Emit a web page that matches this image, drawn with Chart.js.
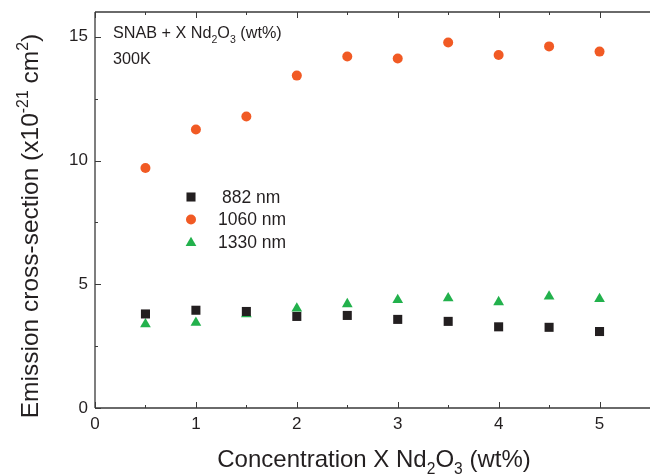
<!DOCTYPE html>
<html>
<head>
<meta charset="utf-8">
<script src="https://cdn.jsdelivr.net/npm/chart.js@4.4.1/dist/chart.umd.min.js"></script>
<style>
  html, body { margin: 0; padding: 0; background: #ffffff; }
  #wrap { width: 650px; height: 474px; position: relative; }
</style>
</head>
<body>
<div id="wrap"><canvas id="c" width="650" height="474"></canvas></div>
<script>
// ---- data ----
const concentrations = [0.5, 1, 1.5, 2, 2.5, 3, 3.5, 4, 4.5, 5];
const series882  = [3.80, 3.95, 3.90, 3.70, 3.74, 3.58, 3.50, 3.28, 3.26, 3.09];
const series1060 = [9.70, 11.25, 11.78, 13.43, 14.20, 14.12, 14.77, 14.26, 14.61, 14.40];
const series1330 = [3.39, 3.45, 3.79, 4.02, 4.20, 4.37, 4.44, 4.28, 4.51, 4.41];
const seriesNames = ['882 nm', '1060 nm', '1330 nm'];
const xTickLabels = [0, 1, 2, 3, 4, 5];
const yTickLabels = [0, 5, 10, 15];
const X_MAX = 5.5;
const Y_MAX = 16;

const BLACK = '#231f20';
const ORANGE = '#f15a24';
const GREEN = '#22b14c';
const AXIS = '#3a3a3a';
const FONT = '"Liberation Sans", Arial, sans-serif';

function pts(xs, ys) { return xs.map((x, i) => ({ x: x, y: ys[i] })); }

// rich text drawing (sub/superscripts)
function richWidth(ctx, segs, size) {
  let w = 0;
  segs.forEach(s => {
    const fs = s[1] === 'n' ? size : size * 0.65;
    ctx.font = fs + 'px ' + FONT;
    w += ctx.measureText(s[0]).width;
  });
  return w;
}
function drawRich(ctx, segs, x, y, size, align) {
  let w = richWidth(ctx, segs, size);
  let cx = align === 'center' ? x - w / 2 : x;
  segs.forEach(s => {
    const fs = s[1] === 'n' ? size : size * 0.65;
    ctx.font = fs + 'px ' + FONT;
    let dy = 0;
    if (s[1] === 'sub') dy = size * 0.28;
    if (s[1] === 'sup') dy = -size * 0.42;
    ctx.textBaseline = 'alphabetic';
    ctx.textAlign = 'left';
    ctx.fillText(s[0], cx, y + dy);
    cx += ctx.measureText(s[0]).width;
  });
}

function marker(ctx, style, x, y, r, color) {
  ctx.save();
  ctx.fillStyle = color;
  ctx.beginPath();
  if (style === 'rect') {
    const s = Math.SQRT1_2 * r;
    ctx.rect(x - s, y - s, 2 * s, 2 * s);
  } else if (style === 'circle') {
    ctx.arc(x, y, r, 0, Math.PI * 2);
  } else if (style === 'triangle') {
    ctx.moveTo(x, y - r);
    ctx.lineTo(x + Math.sin(2 * Math.PI / 3) * r, y - Math.cos(2 * Math.PI / 3) * r);
    ctx.lineTo(x + Math.sin(4 * Math.PI / 3) * r, y - Math.cos(4 * Math.PI / 3) * r);
    ctx.closePath();
  }
  ctx.fill();
  ctx.restore();
}

function noPad(s) {
  s.paddingTop = 0; s.paddingBottom = 0; s.paddingLeft = 0; s.paddingRight = 0;
}

const decor = {
  id: 'decor',
  afterDraw(chart) {
    const ctx = chart.ctx;
    const xs = chart.scales.x, ys = chart.scales.y;
    const a = chart.chartArea;
    ctx.save();
    // frame
    ctx.strokeStyle = AXIS;
    ctx.lineWidth = 1.3;
    ctx.beginPath();
    ctx.moveTo(a.left, a.top); ctx.lineTo(a.right + 2, a.top);
    ctx.moveTo(a.left, a.top); ctx.lineTo(a.left, a.bottom);
    ctx.moveTo(a.left, a.bottom); ctx.lineTo(a.right + 2, a.bottom);
    ctx.stroke();
    // ticks (inward)
    ctx.lineWidth = 1;
    ctx.beginPath();
    for (let v = 0; v <= X_MAX + 0.0001; v += 0.5) {
      const px = Math.round(xs.getPixelForValue(v)) + 0.5;
      const len = Math.abs(v - Math.round(v)) < 1e-6 ? 6 : 3;
      ctx.moveTo(px, a.bottom); ctx.lineTo(px, a.bottom - len);
      ctx.moveTo(px, a.top); ctx.lineTo(px, a.top + len);
    }
    for (let v = 0; v <= Y_MAX + 0.001; v += 2.5) {
      const py = Math.round(ys.getPixelForValue(v)) + 0.5;
      const len = Math.abs(v / 5 - Math.round(v / 5)) < 1e-6 ? 6 : 3;
      ctx.moveTo(a.left, py); ctx.lineTo(a.left + len, py);
    }
    ctx.stroke();

    ctx.fillStyle = '#231f20';
    // x title
    drawRich(ctx, [['Concentration X Nd', 'n'], ['2', 'sub'], ['O', 'n'], ['3', 'sub'], [' (wt%)', 'n']],
      374, 467, 24, 'center');
    // y title
    ctx.save();
    ctx.translate(38, 226);
    ctx.rotate(-Math.PI / 2);
    drawRich(ctx, [['Emission cross-section (x10', 'n'], ['-21', 'sup'], [' cm', 'n'], ['2', 'sup'], [')', 'n']],
      0, 0, 24.5, 'center');
    ctx.restore();
    // annotation
    drawRich(ctx, [['SNAB + X Nd', 'n'], ['2', 'sub'], ['O', 'n'], ['3', 'sub'], [' (wt%)', 'n']],
      113, 38, 16.2, 'left');
    drawRich(ctx, [['300K', 'n']], 113, 64, 16.2, 'left');

    // legend
    const styles = ['rect', 'circle', 'triangle'];
    const radii = [6.4, 5, 6.2];
    const colors = [BLACK, ORANGE, GREEN];
    const rows = [197, 219.5, 242];
    const textX = [222, 218, 218];
    seriesNames.forEach((n, i) => {
      marker(ctx, styles[i], 191, i === 2 ? rows[i] + 1 : rows[i], radii[i], colors[i]);
      ctx.fillStyle = '#231f20';
      ctx.font = '17.5px ' + FONT;
      ctx.textAlign = 'left';
      ctx.textBaseline = 'middle';
      ctx.fillText(n, textX[i], rows[i] + 1);
    });
    ctx.restore();
  }
};

new Chart(document.getElementById('c'), {
  type: 'scatter',
  data: {
    datasets: [
      { label: seriesNames[0], data: pts(concentrations, series882), pointStyle: 'rect',
        pointRadius: 6.4, pointBackgroundColor: BLACK, pointBorderWidth: 0, borderColor: BLACK, showLine: false },
      { label: seriesNames[1], data: pts(concentrations, series1060), pointStyle: 'circle',
        pointRadius: 5, pointBackgroundColor: ORANGE, pointBorderWidth: 0, borderColor: ORANGE, showLine: false },
      { label: seriesNames[2], data: pts(concentrations, series1330), pointStyle: 'triangle',
        pointRadius: 6.2, pointBackgroundColor: GREEN, pointBorderWidth: 0, borderColor: GREEN, showLine: false }
    ]
  },
  options: {
    responsive: false,
    animation: false,
    devicePixelRatio: 1,
    layout: { autoPadding: false, padding: { left: 0, right: 0, top: 12, bottom: 0 } },
    plugins: { legend: { display: false }, tooltip: { enabled: false } },
    scales: {
      x: {
        type: 'linear', min: 0, max: X_MAX,
        afterFit(s) { s.height = 66; noPad(s); },
        afterBuildTicks(s) { s.ticks = xTickLabels.map(v => ({ value: v })); },
        grid: { display: false, drawTicks: false },
        border: { display: false },
        ticks: { color: '#231f20', font: { family: FONT, size: 17 }, padding: 6, maxRotation: 0,
          callback: v => String(v) }
      },
      y: {
        type: 'linear', min: 0, max: Y_MAX,
        afterFit(s) { s.width = 95; noPad(s); },
        afterBuildTicks(s) { s.ticks = yTickLabels.map(v => ({ value: v })); },
        grid: { display: false, drawTicks: false },
        border: { display: false },
        ticks: { color: '#231f20', font: { family: FONT, size: 17 }, padding: 7,
          callback: v => String(v) }
      }
    }
  },
  plugins: [decor]
});
</script>
</body>
</html>
